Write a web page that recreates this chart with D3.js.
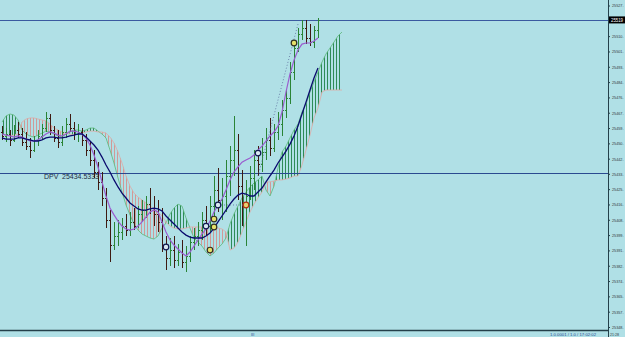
<!DOCTYPE html>
<html>
<head>
<meta charset="utf-8">
<script src="https://cdn.jsdelivr.net/npm/d3@7"></script>
<style>
  body { margin: 0; background: #b0e0e6; overflow: hidden; }
  svg { display: block; }
  text { font-family: "Liberation Sans", Arial, sans-serif; }
</style>
</head>
<body>
<div id="chart"></div>
<script>
// OHLC bars, oldest first
var opens = [25457.1, 25454.9, 25456.0, 25452.7, 25458.2, 25456.0, 25451.5, 25449.3, 25447.1, 25452.7,
  25454.9, 25459.3, 25464.9, 25458.2, 25453.8, 25451.5, 25457.1, 25461.5, 25459.3, 25456.0,
  25457.1, 25452.7, 25447.1, 25441.6, 25434.9, 25429.4, 25420.5, 25408.3, 25394.4, 25399.4,
  25401.6, 25404.9, 25402.7, 25407.2, 25404.9, 25411.6, 25413.8, 25417.1, 25414.9, 25411.6,
  25407.2, 25393.8, 25387.2, 25391.6, 25386.1, 25390.5, 25385.0, 25388.3, 25396.0, 25399.4,
  25402.7, 25408.3, 25404.9, 25416.0, 25424.9, 25419.4, 25421.6, 25432.7, 25441.6, 25447.1,
  25427.1, 25417.1, 25421.6, 25431.6, 25441.6, 25439.3, 25446.0, 25452.7, 25448.2, 25457.1,
  25461.5, 25469.3, 25475.9, 25490.4, 25503.7, 25511.5, 25514.8, 25509.3, 25507.0, 25513.7];
var highs = [25460.4, 25459.3, 25458.2, 25461.0, 25462.6, 25459.3, 25457.1, 25453.8, 25454.9, 25458.2,
  25461.5, 25468.2, 25467.1, 25460.4, 25458.2, 25460.4, 25464.9, 25467.1, 25462.6, 25461.5,
  25459.3, 25456.0, 25451.5, 25447.1, 25440.4, 25434.9, 25426.0, 25413.8, 25407.2, 25408.3,
  25409.4, 25411.6, 25412.7, 25414.9, 25416.0, 25419.4, 25421.6, 25426.0, 25421.6, 25419.4,
  25414.9, 25399.4, 25398.3, 25399.4, 25394.9, 25397.2, 25393.8, 25399.4, 25403.8, 25407.2,
  25412.7, 25416.0, 25421.6, 25432.7, 25437.1, 25431.6, 25441.6, 25449.3, 25466.0, 25456.0,
  25436.0, 25430.5, 25438.2, 25447.1, 25449.3, 25453.8, 25459.3, 25464.9, 25461.5, 25468.2,
  25474.9, 25480.4, 25495.9, 25508.2, 25514.8, 25519.3, 25519.3, 25517.0, 25515.9, 25520.4];
var lows = [25452.7, 25451.5, 25449.3, 25451.5, 25453.8, 25449.3, 25447.1, 25442.7, 25446.0, 25449.3,
  25452.7, 25457.1, 25455.4, 25451.5, 25448.2, 25449.3, 25453.8, 25457.1, 25452.7, 25451.5,
  25449.3, 25443.8, 25438.2, 25431.6, 25424.9, 25416.0, 25403.8, 25385.0, 25391.6, 25393.8,
  25397.2, 25399.4, 25399.4, 25402.7, 25403.8, 25407.2, 25409.4, 25411.6, 25404.9, 25401.6,
  25390.5, 25380.5, 25382.7, 25381.6, 25382.7, 25381.6, 25379.4, 25385.0, 25391.6, 25393.8,
  25397.2, 25399.4, 25401.6, 25407.2, 25412.7, 25408.3, 25412.7, 25421.6, 25432.7, 25419.4,
  25404.9, 25393.8, 25419.4, 25424.9, 25432.7, 25434.9, 25441.6, 25443.8, 25446.0, 25452.7,
  25454.9, 25464.9, 25472.6, 25486.0, 25501.5, 25508.2, 25505.9, 25504.8, 25503.7, 25509.3];
var closes = [25454.9, 25456.0, 25452.7, 25458.2, 25456.0, 25451.5, 25449.3, 25447.1, 25452.7, 25454.9,
  25459.3, 25464.9, 25458.2, 25453.8, 25451.5, 25457.1, 25461.5, 25459.3, 25456.0, 25457.1,
  25452.7, 25447.1, 25441.6, 25434.9, 25429.4, 25420.5, 25408.3, 25394.4, 25399.4, 25401.6,
  25404.9, 25402.7, 25407.2, 25404.9, 25411.6, 25413.8, 25417.1, 25414.9, 25411.6, 25407.2,
  25393.8, 25387.2, 25391.6, 25386.1, 25390.5, 25385.0, 25388.3, 25396.0, 25399.4, 25402.7,
  25408.3, 25404.9, 25416.0, 25424.9, 25419.4, 25421.6, 25432.7, 25441.6, 25447.1, 25427.1,
  25417.1, 25421.6, 25431.6, 25441.6, 25439.3, 25446.0, 25452.7, 25448.2, 25457.1, 25461.5,
  25469.3, 25475.9, 25490.4, 25503.7, 25511.5, 25514.8, 25509.3, 25507.0, 25513.7, 25519.3];

// moving averages (slow = navy, fast = purple)
var slowMA = [25453.8, 25453.2, 25453.2, 25453.2, 25453.8, 25453.8, 25453.2, 25452.7, 25452.1, 25452.1,
  25452.7, 25453.8, 25454.3, 25454.3, 25453.8, 25453.8, 25454.3, 25454.9, 25455.4, 25456.0,
  25456.0, 25454.3, 25452.1, 25449.9, 25447.1, 25443.2, 25438.8, 25434.9, 25430.5, 25426.6,
  25423.2, 25420.5, 25417.7, 25416.0, 25414.4, 25413.8, 25413.8, 25414.4, 25414.9, 25414.4,
  25413.3, 25410.5, 25408.3, 25406.1, 25403.8, 25401.6, 25399.9, 25398.8, 25398.3, 25398.3,
  25398.3, 25399.4, 25401.0, 25403.8, 25407.2, 25410.5, 25413.8, 25417.1, 25419.9, 25422.1,
  25423.2, 25422.7, 25421.6, 25421.6, 25423.8, 25426.0, 25429.4, 25432.7, 25436.0, 25439.9,
  25443.2, 25446.5, 25450.4, 25454.9, 25460.4, 25467.1, 25473.7, 25480.4, 25487.1, 25492.6];
var fastMA = [25456.0, 25455.4, 25454.9, 25454.3, 25454.9, 25454.3, 25453.2, 25452.1, 25452.1, 25452.7,
  25454.3, 25456.0, 25457.1, 25456.5, 25455.4, 25454.9, 25456.0, 25457.6, 25457.6, 25457.1,
  25456.0, 25453.8, 25449.9, 25444.3, 25437.7, 25429.4, 25421.6, 25414.9, 25411.1, 25407.7,
  25404.9, 25403.3, 25402.7, 25403.3, 25404.9, 25407.2, 25409.9, 25412.7, 25413.8, 25412.7,
  25407.2, 25401.6, 25397.2, 25394.4, 25392.2, 25390.0, 25388.3, 25390.5, 25393.8, 25397.2,
  25400.5, 25403.3, 25407.7, 25412.7, 25416.6, 25419.9, 25424.9, 25430.5, 25434.9, 25437.7,
  25440.4, 25441.6, 25442.7, 25444.3, 25447.1, 25449.3, 25452.1, 25454.9, 25457.1, 25460.4,
  25468.2, 25479.3, 25489.3, 25497.0, 25502.6, 25505.9, 25506.5, 25506.5, 25507.6, 25509.3];

// ichimoku cloud spans (run 6 bars past the last price bar)
var spanA = [25462.6, 25466.0, 25467.1, 25466.5, 25463.8, 25458.2, 25456.0, 25454.9, 25454.3, 25455.4,
  25456.5, 25457.6, 25457.1, 25456.0, 25454.9, 25454.3, 25456.0, 25457.1, 25458.2, 25458.2,
  25457.6, 25458.2, 25459.3, 25459.3, 25457.6, 25456.0, 25453.8, 25447.1, 25439.9, 25431.6,
  25423.8, 25416.6, 25411.1, 25406.1, 25402.7, 25400.5, 25399.4, 25398.3, 25397.7, 25399.4,
  25403.8, 25406.6, 25411.6, 25414.9, 25417.1, 25416.0, 25409.4, 25403.8, 25398.3, 25396.0,
  25393.8, 25390.5, 25388.3, 25390.0, 25392.7, 25394.9, 25398.3, 25406.1, 25411.6, 25416.0,
  25420.5, 25423.8, 25426.6, 25428.8, 25430.5, 25432.7, 25424.9, 25421.6, 25427.1, 25437.1,
  25446.0, 25449.3, 25453.8, 25458.2, 25461.5, 25468.2, 25472.6, 25479.3, 25484.8, 25490.4,
  25495.9, 25500.4, 25503.7, 25507.0, 25510.4, 25512.6];
var spanB = [25456.0, 25455.4, 25454.9, 25455.4, 25456.0, 25462.6, 25464.3, 25464.9, 25464.9, 25464.3,
  25463.8, 25463.2, 25461.5, 25459.3, 25458.2, 25457.1, 25456.5, 25456.0, 25455.4, 25456.0,
  25456.5, 25457.1, 25457.6, 25457.6, 25457.1, 25457.1, 25456.5, 25454.3, 25451.0, 25446.0,
  25439.9, 25432.7, 25427.1, 25423.2, 25421.0, 25419.4, 25417.7, 25416.0, 25414.4, 25412.7,
  25410.5, 25407.2, 25404.9, 25403.8, 25403.3, 25403.3, 25403.8, 25404.4, 25404.4, 25404.4,
  25404.4, 25404.4, 25403.8, 25403.8, 25403.8, 25403.3, 25401.6, 25391.6, 25392.7, 25396.0,
  25401.6, 25407.2, 25412.7, 25417.1, 25420.5, 25423.8, 25429.4, 25429.4, 25429.9, 25430.5,
  25430.5, 25431.0, 25431.6, 25432.7, 25432.7, 25438.8, 25447.1, 25455.4, 25464.9, 25470.4,
  25479.3, 25480.4, 25480.4, 25480.4, 25480.4, 25480.4];

// signal markers: bar index, price, kind
var markerBars = [41, 51, 52, 53, 53, 54, 61, 64, 73];
var markerPrices = [25393.3, 25404.9, 25391.6, 25404.4, 25408.8, 25416.6, 25416.6, 25445.4, 25506.5];
var markerKinds = ["ring", "ring", "dot", "dot", "dot", "ring", "red", "ring", "dot"];

// dotted object lines: [bar, price, bar, price]
var dottedLines = [[54, 25416.6, 61, 25416.6], [64, 25432.7, 74, 25517.0]];

// horizontal price lines
var bidPrice = 25519.3;
var dpvPrice = 25434.5333;
var dpvLabel = "DPV";

// right scale
var tickValues = [25527.3, 25510.3, 25501.8, 25493.3, 25484.8, 25476.3, 25467.8, 25459.3, 25450.8,
  25442.3, 25433.9, 25425.4, 25416.9, 25408.4, 25399.9, 25391.4, 25382.9, 25374.4, 25365.9, 25357.4, 25348.9];
var tickLabels = ["25527.", "25510.", "25501.", "25493.", "25484.", "25476.", "25467.", "25459.", "25450.",
  "25442.", "25433.", "25425.", "25416.", "25408.", "25399.", "25391.", "25382.", "25374.", "25365.", "25357.", "25348."];

var W = 625, H = 337;
var axisX = 608, bottomY = 330;

var x = d3.scaleLinear().domain([0, 79]).range([2, 318]);   // 4px per bar
var y = d3.scaleLinear().domain([25348.9, 25527.3]).range([327, 5.5]);

var svg = d3.select("#chart").append("svg")
  .attr("width", W)
  .attr("height", H);

svg.append("rect").attr("width", W).attr("height", H).attr("fill", "#b0e0e6");

var defs = svg.append("defs");
function hatch(id, color) {
  defs.append("pattern")
    .attr("id", id)
    .attr("patternUnits", "userSpaceOnUse")
    .attr("width", 3).attr("height", 4)
    .append("rect")
    .attr("width", 1).attr("height", 4)
    .attr("fill", color);
}
hatch("hatchUp", "#2e8b57");
hatch("hatchDown", "#cf9a98");

var cloudIdx = d3.range(spanA.length);

// regions above / below span B decide the hatch colour
defs.append("clipPath").attr("id", "aboveB").append("path")
  .attr("d", d3.area().x(function(i) { return x(i); }).y0(0).y1(function(i) { return y(spanB[i]); })(cloudIdx));
defs.append("clipPath").attr("id", "belowB").append("path")
  .attr("d", d3.area().x(function(i) { return x(i); }).y0(H).y1(function(i) { return y(spanB[i]); })(cloudIdx));

var cloudArea = d3.area()
  .x(function(i) { return x(i); })
  .y0(function(i) { return y(spanA[i]); })
  .y1(function(i) { return y(spanB[i]); });

svg.append("path").attr("d", cloudArea(cloudIdx))
  .attr("fill", "url(#hatchUp)").attr("clip-path", "url(#aboveB)");
svg.append("path").attr("d", cloudArea(cloudIdx))
  .attr("fill", "url(#hatchDown)").attr("clip-path", "url(#belowB)");

svg.append("path")
  .attr("d", d3.line().x(function(i) { return x(i); }).y(function(i) { return y(spanA[i]); })(cloudIdx))
  .attr("fill", "none").attr("stroke", "#5cb87a").attr("stroke-width", 0.8);
svg.append("path")
  .attr("d", d3.line().x(function(i) { return x(i); }).y(function(i) { return y(spanB[i]); })(cloudIdx))
  .attr("fill", "none").attr("stroke", "#e0aaa6").attr("stroke-width", 0.8);

// horizontal lines
svg.append("line")
  .attr("x1", 0).attr("x2", axisX)
  .attr("y1", Math.round(y(bidPrice)) + 0.5).attr("y2", Math.round(y(bidPrice)) + 0.5)
  .attr("stroke", "#3a5aa0").attr("stroke-width", 1);
svg.append("line")
  .attr("x1", 0).attr("x2", axisX)
  .attr("y1", Math.round(y(dpvPrice)) + 0.5).attr("y2", Math.round(y(dpvPrice)) + 0.5)
  .attr("stroke", "#2a4a90").attr("stroke-width", 1);

svg.append("text")
  .attr("x", 44).attr("y", y(dpvPrice) + 6)
  .attr("font-size", "7px").attr("fill", "#1c2c44")
  .text(dpvLabel);
svg.append("text")
  .attr("x", 62).attr("y", y(dpvPrice) + 6)
  .attr("font-size", "7px").attr("fill", "#1c2c44")
  .text(dpvPrice.toFixed(4));

// bars
var bars = svg.append("g").attr("shape-rendering", "crispEdges");
closes.forEach(function(c, i) {
  var col = c >= opens[i] ? "#2a8436" : "#3e1a12";
  var bx = Math.round(x(i)) + 0.5;
  bars.append("line").attr("x1", bx).attr("x2", bx)
    .attr("y1", y(highs[i])).attr("y2", y(lows[i])).attr("stroke", col).attr("stroke-width", 1.4);
  bars.append("line").attr("x1", bx - 1.5).attr("x2", bx)
    .attr("y1", Math.round(y(opens[i])) + 0.5).attr("y2", Math.round(y(opens[i])) + 0.5).attr("stroke", col);
  bars.append("line").attr("x1", bx).attr("x2", bx + 1.5)
    .attr("y1", Math.round(y(c)) + 0.5).attr("y2", Math.round(y(c)) + 0.5).attr("stroke", col);
});

// moving averages
var maLine = function(arr) {
  return d3.line().x(function(d, i) { return x(i); }).y(function(d) { return y(d); })(arr);
};
svg.append("path").attr("d", maLine(fastMA))
  .attr("fill", "none").attr("stroke", "#9a5ccf").attr("stroke-width", 1.2);
svg.append("path").attr("d", maLine(slowMA))
  .attr("fill", "none").attr("stroke", "#0a0a6e").attr("stroke-width", 1.3);

// dotted object lines
dottedLines.forEach(function(l) {
  svg.append("line")
    .attr("x1", x(l[0])).attr("y1", y(l[1]))
    .attr("x2", x(l[2])).attr("y2", y(l[3]))
    .attr("stroke", "#5a6a9a").attr("stroke-width", 0.8)
    .attr("stroke-dasharray", "1,2");
});

// markers
markerBars.forEach(function(b, i) {
  var k = markerKinds[i];
  svg.append("circle")
    .attr("cx", x(b)).attr("cy", y(markerPrices[i])).attr("r", 2.8)
    .attr("fill", k == "dot" ? "#e6e06a" : (k == "red" ? "#e8d070" : "#d8e8f0"))
    .attr("stroke", k == "red" ? "#b03010" : (k == "dot" ? "#303020" : "#101850"))
    .attr("stroke-width", 1.2);
});

// bottom line and right scale
svg.append("line")
  .attr("x1", 0).attr("x2", axisX).attr("y1", bottomY + 0.5).attr("y2", bottomY + 0.5)
  .attr("stroke", "#24404a").attr("stroke-width", 1.5);
svg.append("line")
  .attr("x1", axisX + 0.5).attr("x2", axisX + 0.5).attr("y1", 0).attr("y2", H)
  .attr("stroke", "#24404a").attr("stroke-width", 1);

var yAxis = d3.axisRight(y)
  .tickValues(tickValues)
  .tickFormat(function(d, i) { return tickLabels[i]; })
  .tickSize(2)
  .tickSizeOuter(0);

var ax = svg.append("g")
  .attr("transform", "translate(" + axisX + ",0)")
  .call(yAxis);
ax.select(".domain").remove();
ax.selectAll("line").attr("stroke", "#24404a");
ax.selectAll("text")
  .attr("x", 4)
  .attr("font-size", "4.2px")
  .attr("textLength", 11.5)
  .attr("lengthAdjust", "spacingAndGlyphs")
  .attr("font-family", "Liberation Sans, Arial, sans-serif")
  .attr("fill", "#303840");

// current price box
svg.append("rect")
  .attr("x", axisX + 1).attr("y", y(bidPrice) - 3.5)
  .attr("width", W - axisX).attr("height", 7)
  .attr("fill", "#000");
svg.append("text")
  .attr("x", axisX + 3).attr("y", y(bidPrice) + 1.8)
  .attr("font-size", "4.5px").attr("fill", "#fff")
  .attr("textLength", 12).attr("lengthAdjust", "spacingAndGlyphs")
  .text(bidPrice.toFixed(0));

// status texts under the chart
svg.append("text")
  .attr("x", 610).attr("y", 336)
  .attr("font-size", "4px").attr("fill", "#303840")
  .attr("textLength", 9).attr("lengthAdjust", "spacingAndGlyphs")
  .text("21:28");
svg.append("text")
  .attr("x", 550).attr("y", 336)
  .attr("font-size", "4px").attr("fill", "#2a4a90")
  .attr("textLength", 46).attr("lengthAdjust", "spacingAndGlyphs")
  .text("1.0.0001 / 1.0 / 17:02:02");
svg.append("text")
  .attr("x", 251).attr("y", 336)
  .attr("font-size", "4px").attr("fill", "#2a4a90")
  .text("III");
</script>
</body>
</html>
